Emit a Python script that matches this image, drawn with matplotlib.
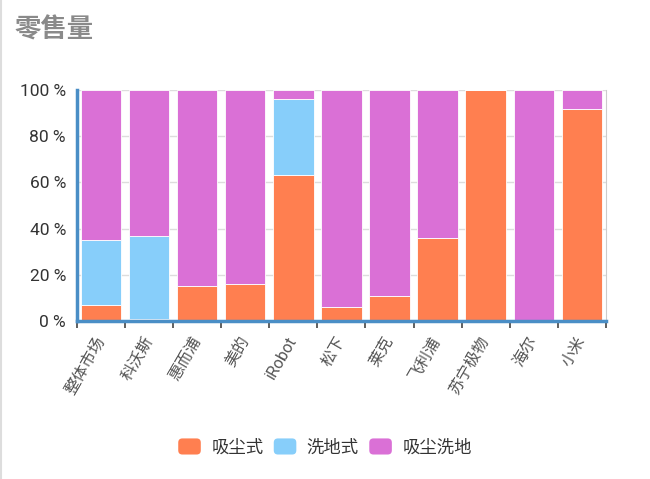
import matplotlib.pyplot as plt
import matplotlib.patches as mpatches
from matplotlib.legend_handler import HandlerPatch
import numpy as np

plt.rcParams['font.family'] = ['Roboto', 'Noto Sans CJK SC', 'DejaVu Sans']

# data (percent of retail volume)
brands = ["整体市场", "科沃斯", "惠而浦", "美的", "iRobot", "松下", "莱克", "飞利浦", "苏宁极物", "海尔", "小米"]
series_names = ["吸尘式", "洗地式", "吸尘洗地"]
vacuum = [7, 1, 15, 16, 63, 6, 11, 36, 100, 0, 92]
mop = [28, 36, 0, 0, 33, 0, 0, 0, 0, 0, 0]
combo = [65, 63, 85, 84, 4, 94, 89, 64, 0, 100, 8]
colors = ["#FF7F50", "#87CEFA", "#DA70D6"]


class RoundHandler(HandlerPatch):
    # rounded square legend keys
    def create_artists(self, legend, orig_handle, xdescent, ydescent, width, height, fontsize, trans):
        p = mpatches.FancyBboxPatch((-xdescent + 1.5, -ydescent + 1.5), width - 3, height - 3,
                                    boxstyle="round,pad=1.5,rounding_size=3",
                                    facecolor=orig_handle.get_facecolor(), edgecolor="none",
                                    transform=trans)
        return [p]


fig = plt.figure(figsize=(6.5, 4.79), dpi=100)
ax = fig.add_axes([0.1185, 0.330, 0.8135, 0.482])

x = np.arange(len(brands))
bottom = np.zeros(len(brands))
handles = []
for name, vals, c in zip(series_names, [vacuum, mop, combo], colors):
    ax.bar(x, vals, bottom=bottom, width=0.84, color=c, edgecolor="white",
           linewidth=0.6, zorder=3)
    bottom += np.array(vals)
    handles.append(mpatches.Patch(facecolor=c, label=name))

ax.set_xlim(-0.5, len(brands) - 0.5)
ax.set_ylim(0, 100)
ax.set_yticks(range(0, 101, 20))
ax.set_yticklabels([f"{v} %" for v in range(0, 101, 20)], fontsize=12.5, color="#333333")
ax.yaxis.grid(True, color="#dddddd", linewidth=1, zorder=0)
ax.tick_params(axis="y", length=0, pad=8)

ax.set_xticks(x)
ax.set_xticklabels(brands, rotation=60, ha="right", va="center", rotation_mode="anchor",
                   fontsize=11.5, color="#555555")
ax.set_xticks(np.arange(-0.5, len(brands)), minor=True)
ax.tick_params(axis="x", which="major", length=0, pad=12)
ax.tick_params(axis="x", which="minor", length=5, width=1.2, color="#444444")

for side in ["left", "bottom"]:
    ax.spines[side].set_color("#4a8ec6")
    ax.spines[side].set_linewidth(2.5)
    ax.spines[side].set_zorder(4)
ax.spines["right"].set_color("#cccccc")
ax.spines["top"].set_visible(False)

fig.text(0.022, 0.938, "零售量", fontsize=19, fontweight="bold", color="#8a8a8a", va="center")

leg = fig.legend(handles=handles, loc="center", bbox_to_anchor=(0.5, 0.067), ncol=3, frameon=False,
                 fontsize=12.5, handlelength=1.3, handleheight=1.05, handletextpad=0.6,
                 columnspacing=0.6, handler_map={mpatches.Patch: RoundHandler()})
for t in leg.get_texts():
    t.set_color("#333333")

# light border at the left edge
fig.add_artist(plt.Line2D([0.002, 0.002], [0, 1], color="#dddddd", linewidth=1.5))

fig.savefig("out.png", dpi=100)
